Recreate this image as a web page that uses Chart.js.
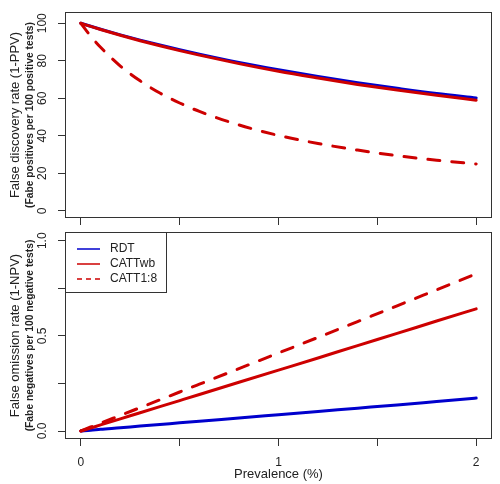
<!DOCTYPE html>
<html>
<head>
<title>False discovery and false omission rates</title>
<script src="https://cdn.jsdelivr.net/npm/chart.js"></script>
<style>
  body { margin: 0; background: #fff; }
  #wrap { position: relative; width: 500px; height: 484px; }
  .panel { position: absolute; left: 0; width: 500px; }
  #topPanel { top: 0; height: 230px; }
  #bottomPanel { top: 230px; height: 254px; }
</style>
</head>
<body>
<div id="wrap">
  <div class="panel" id="topPanel"><canvas id="fdrChart"></canvas></div>
  <div class="panel" id="bottomPanel"><canvas id="forChart"></canvas></div>
</div>
<script>
const prevalence = [0, 0.05, 0.1, 0.2, 0.3, 0.4, 0.5, 0.6, 0.8, 1.0, 1.2, 1.4, 1.6, 1.8, 2.0];
const seriesNames = ['RDT', 'CATTwb', 'CATT1:8'];

// false discovery rate (1-PPV)
const fdrRDT    = [100, 98.4, 96.8, 93.8, 91.0, 88.4, 85.9, 83.5, 79.1, 75.2, 71.6, 68.3, 65.3, 62.5, 60.2];
const fdrCATTwb = [100, 98.3, 96.7, 93.6, 90.7, 88.0, 85.4, 83.0, 78.5, 74.4, 70.8, 67.4, 64.4, 61.6, 59.0];
const fdrCATT18 = [100, 93.1, 87.2, 77.2, 69.3, 62.8, 57.5, 53.0, 45.8, 40.2, 35.9, 32.4, 29.4, 27.0, 25.0];

// false omission rate (1-NPV)
const forRDT    = [0, 0.004, 0.009, 0.017, 0.026, 0.034, 0.043, 0.051, 0.069, 0.086, 0.103, 0.120, 0.137, 0.155, 0.173];
const forCATTwb = [0, 0.016, 0.032, 0.064, 0.096, 0.128, 0.160, 0.192, 0.256, 0.320, 0.384, 0.449, 0.513, 0.578, 0.642];
const forCATT18 = [0, 0.021, 0.041, 0.082, 0.123, 0.164, 0.205, 0.246, 0.328, 0.410, 0.492, 0.575, 0.658, 0.742, 0.826];

const xTicks = [0, 0.5, 1, 1.5, 2];
const xLabels = ['0', '', '1', '', '2'];
const fdrTicks = [0, 20, 40, 60, 80, 100];
const fdrLabels = ['0', '20', '40', '60', '80', '100'];
const forTicks = [0, 0.25, 0.5, 0.75, 1];
const forLabels = ['0.0', '', '0.5', '', '1.0'];

const BLUE = '#0000CD';
const RED = '#CD0000';
const FONT = '"Liberation Sans", Arial, sans-serif';
const TEXT = '#222';
const AXIS = '#333';

function toPoints(ys) {
    return prevalence.map((x, i) => ({ x: x, y: ys[i] }));
}

function makeDatasets(a, b, c) {
    const common = { pointRadius: 0, borderWidth: 3, fill: false, cubicInterpolationMode: 'monotone', borderCapStyle: 'round' };
    return [
        Object.assign({ label: seriesNames[0], data: toPoints(a), borderColor: BLUE, order: 3 }, common),
        Object.assign({ label: seriesNames[1], data: toPoints(b), borderColor: RED, order: 2 }, common),
        Object.assign({ label: seriesNames[2], data: toPoints(c), borderColor: RED, borderDash: [12, 12], order: 1 }, common)
    ];
}

// box, rotated y tick labels and two-line y title, R style
function framePlugin(yTicks, yLabels, title, subtitle) {
    return {
        id: 'frame',
        afterDraw(chart) {
            const ctx = chart.ctx;
            const a = chart.chartArea;
            const y = chart.scales.y;
            ctx.save();
            ctx.strokeStyle = AXIS;
            ctx.lineWidth = 1;
            ctx.strokeRect(a.left + 0.5, a.top + 0.5, a.right - a.left - 1, a.bottom - a.top - 1);

            ctx.fillStyle = TEXT;
            ctx.textAlign = 'center';
            ctx.textBaseline = 'middle';
            ctx.font = '12px ' + FONT;
            yTicks.forEach((v, i) => {
                if (!yLabels[i]) return;
                ctx.save();
                ctx.translate(43, y.getPixelForValue(v));
                ctx.rotate(-Math.PI / 2);
                ctx.fillText(yLabels[i], 0, 0);
                ctx.restore();
            });

            const cy = (a.top + a.bottom) / 2;
            ctx.save();
            ctx.translate(15, cy);
            ctx.rotate(-Math.PI / 2);
            ctx.font = '13px ' + FONT;
            ctx.fillText(title, 0, 0);
            ctx.restore();

            ctx.save();
            ctx.translate(30, cy);
            ctx.rotate(-Math.PI / 2);
            ctx.font = 'bold 10.3px ' + FONT;
            ctx.fillText(subtitle, 0, 0);
            ctx.restore();
            ctx.restore();
        }
    };
}

const legendPlugin = {
    id: 'boxLegend',
    afterDraw(chart) {
        const ctx = chart.ctx;
        const a = chart.chartArea;
        const x0 = a.left, y0 = a.top;
        ctx.save();
        ctx.strokeStyle = AXIS;
        ctx.lineWidth = 1;
        ctx.strokeRect(x0 + 0.5, y0 + 0.5, 101, 60);
        chart.data.datasets.forEach((ds, i) => {
            const ly = y0 + 17 + i * 15;
            ctx.strokeStyle = ds.borderColor;
            ctx.lineWidth = 1.5;
            ctx.setLineDash(ds.borderDash ? [5, 4] : []);
            ctx.beginPath();
            ctx.moveTo(x0 + 12, ly);
            ctx.lineTo(x0 + 35, ly);
            ctx.stroke();
            ctx.setLineDash([]);
            ctx.fillStyle = TEXT;
            ctx.font = '12px ' + FONT;
            ctx.textAlign = 'left';
            ctx.textBaseline = 'middle';
            ctx.fillText(ds.label, x0 + 45, ly);
        });
        ctx.restore();
    }
};

function makeChart(id, datasets, yMin, yMax, yTicks, xHeight, showX, padTop, plugins) {
    return new Chart(document.getElementById(id), {
        type: 'line',
        data: { datasets: datasets },
        options: {
            responsive: true,
            maintainAspectRatio: false,
            animation: false,
            devicePixelRatio: 1,
            layout: { padding: { top: padTop, right: 8, left: 0, bottom: 0 } },
            plugins: { legend: { display: false }, tooltip: { enabled: false } },
            scales: {
                x: {
                    type: 'linear',
                    min: -0.08,
                    max: 2.08,
                    afterBuildTicks: s => { s.ticks = xTicks.map(v => ({ value: v })); },
                    afterFit: s => { s.height = xHeight; },
                    border: { display: false },
                    grid: { drawOnChartArea: false, drawTicks: true, tickLength: 7, color: AXIS },
                    ticks: {
                        display: showX,
                        padding: 9,
                        color: TEXT,
                        font: { family: FONT, size: 12 },
                        maxRotation: 0,
                        autoSkip: false,
                        callback: (v, i) => xLabels[i]
                    },
                    title: {
                        display: showX,
                        text: 'Prevalence (%)',
                        color: TEXT,
                        font: { family: FONT, size: 13 },
                        padding: { top: 0, bottom: 2 }
                    }
                },
                y: {
                    min: yMin,
                    max: yMax,
                    afterBuildTicks: s => { s.ticks = yTicks.map(v => ({ value: v })); },
                    afterFit: s => { s.width = 65; },
                    border: { display: false },
                    grid: { drawOnChartArea: false, drawTicks: true, tickLength: 7, color: AXIS },
                    ticks: { display: false }
                }
            }
        },
        plugins: plugins
    });
}

makeChart('fdrChart', makeDatasets(fdrRDT, fdrCATTwb, fdrCATT18), -3.8, 106, fdrTicks, 12, false, 12,
    [framePlugin(fdrTicks, fdrLabels, 'False discovery rate (1-PPV)', '(Fabe positives per 100 positive tests)')]);

makeChart('forChart', makeDatasets(forRDT, forCATTwb, forCATT18), -0.042, 1.046, forTicks, 45, true, 2,
    [framePlugin(forTicks, forLabels, 'False omission rate (1-NPV)', '(Fabe negatives per 100 negative tests)'), legendPlugin]);
</script>
</body>
</html>
